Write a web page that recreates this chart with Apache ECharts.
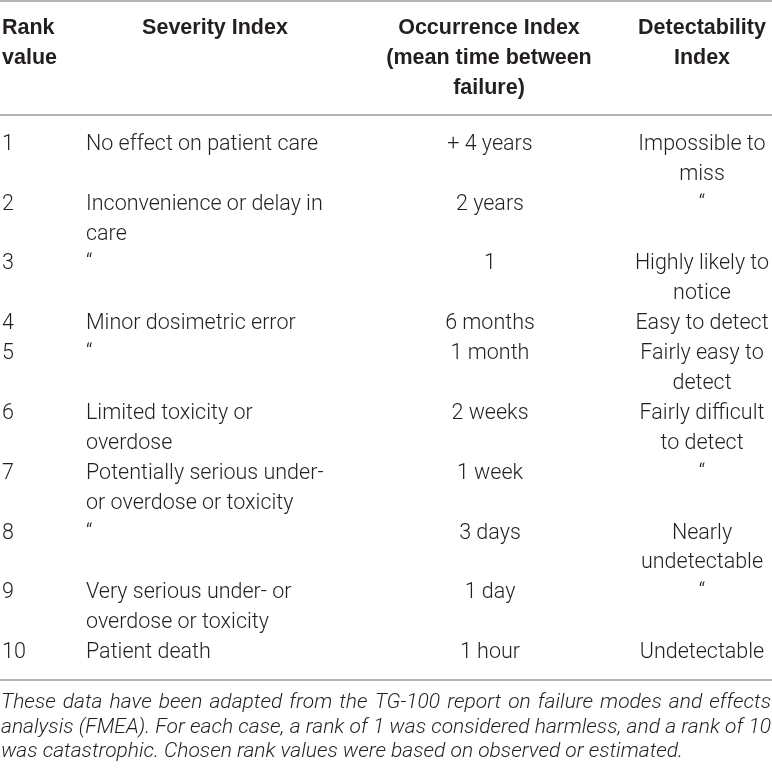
<!DOCTYPE html>
<html>
<head>
<meta charset="utf-8">
<script src="https://cdn.jsdelivr.net/npm/echarts@6/dist/echarts.min.js"></script>
<style>
html, body { margin: 0; padding: 0; background: #fff; }
#chart { width: 772px; height: 770px; }
</style>
</head>
<body>
<div id="chart"></div>
<script>
// table content
const headers = ['Rank\nvalue', 'Severity Index', 'Occurrence Index\n(mean time between\nfailure)', 'Detectability\nIndex'];
const ranks = ['1', '2', '3', '4', '5', '6', '7', '8', '9', '10'];
const severity = [
    'No effect on patient care',
    'Inconvenience or delay in\ncare',
    '\u201C',
    'Minor dosimetric error',
    '\u201C',
    'Limited toxicity or\noverdose',
    'Potentially serious under-\nor overdose or toxicity',
    '\u201C',
    'Very serious under- or\noverdose or toxicity',
    'Patient death'
];
const occurrence = ['+ 4 years', '2 years', '1', '6 months', '1 month', '2 weeks', '1 week', '3 days', '1 day', '1 hour'];
const detectability = [
    'Impossible to\nmiss',
    '\u201C',
    'Highly likely to\nnotice',
    'Easy to detect',
    'Fairly easy to\ndetect',
    'Fairly difficult\nto detect',
    '\u201C',
    'Nearly\nundetectable',
    '\u201C',
    'Undetectable'
];
const noteLines = [
    'These data have been adapted from the TG-100 report on failure modes and effects',
    'analysis (FMEA). For each case, a rank of 1 was considered harmless, and a rank of 10',
    'was catastrophic. Chosen rank values were based on observed or estimated.'
];

// layout
const W = 772;
const LINE = 29.9;
const bodyTop = 129.5;
const colX = [2, 86, 490, 702];
const colAlign = ['left', 'left', 'center', 'center'];
const headX = [2, 215, 489, 702];
const headAlign = ['left', 'center', 'center', 'center'];
const textColor = '#231f20';
const ruleColor = '#9b9b9b';
const bodyFont = '300 21.5px Roboto, "Liberation Sans", sans-serif';
const headFont = 'bold 21.5px "Liberation Sans", Arial, sans-serif';
const noteFont = 'italic 300 21px Roboto, "Liberation Sans", sans-serif';

// row heights from the number of text lines in each row
const rowStart = [];
let total = 0;
ranks.forEach((r, i) => {
    rowStart.push(total);
    total += Math.max(...[severity[i], occurrence[i], detectability[i]].map(t => t.split('\n').length));
});

function renderRow(params, api) {
    const i = api.value(0);
    const cells = [ranks[i], severity[i], occurrence[i], detectability[i]];
    return {
        type: 'group',
        children: cells.map((t, c) => {
            const p = api.coord([colX[c], rowStart[i]]);
            return {
                type: 'text',
                x: p[0],
                y: p[1],
                style: {
                    text: t,
                    align: colAlign[c],
                    verticalAlign: 'top',
                    lineHeight: LINE,
                    font: bodyFont,
                    fill: textColor
                }
            };
        })
    };
}

// justified caption words
const ctx = document.createElement('canvas').getContext('2d');
ctx.font = noteFont;
const noteEls = [];
noteLines.forEach((line, li) => {
    const y = 703 + li * 24.5;
    const last = li === noteLines.length - 1;
    const words = line.split(' ');
    const widths = words.map(w => ctx.measureText(w).width);
    const sum = widths.reduce((a, b) => a + b, 0);
    const gap = last ? ctx.measureText(' ').width : (W - 2 - sum) / (words.length - 1);
    let x = 1;
    words.forEach((w, k) => {
        noteEls.push({
            type: 'text', x: x, y: y,
            style: { text: w, font: noteFont, fill: textColor, verticalAlign: 'middle' }
        });
        x += widths[k] + gap;
    });
});

const headEls = headers.map((h, c) => ({
    type: 'text', x: headX[c], y: 13,
    style: { text: h, align: headAlign[c], verticalAlign: 'top', lineHeight: 30, font: headFont, fill: textColor }
}));

const rules = [1, 115, 680].map(y => ({
    type: 'line',
    shape: { x1: 0, y1: y, x2: W, y2: y },
    style: { stroke: ruleColor, lineWidth: 1.5 }
}));

const chart = echarts.init(document.getElementById('chart'));
chart.setOption({
    animation: false,
    backgroundColor: '#fff',
    grid: { left: 0, right: 0, top: bodyTop, height: total * LINE },
    xAxis: { type: 'value', min: 0, max: W, show: false },
    yAxis: { type: 'value', min: 0, max: total, inverse: true, show: false },
    graphic: [...rules, ...headEls, ...noteEls],
    series: [{
        type: 'custom',
        renderItem: renderRow,
        data: ranks.map((r, i) => [i])
    }]
});
</script>
</body>
</html>
